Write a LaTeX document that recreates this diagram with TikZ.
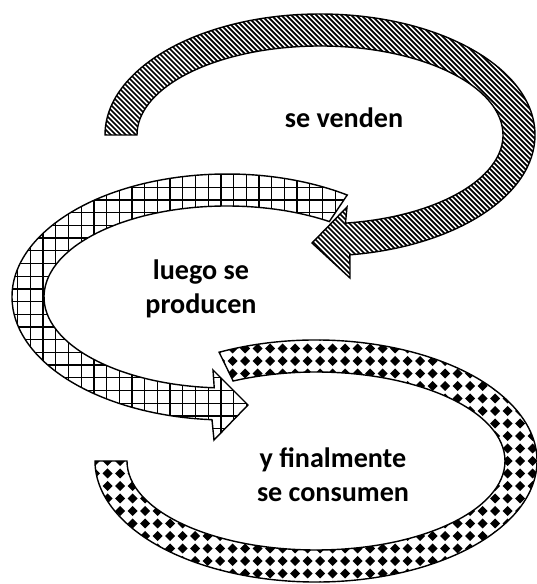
\documentclass[tikz,border=0pt]{standalone}
\usepackage{fontspec}
\setmainfont{Carlito}

\begin{document}
\begin{tikzpicture}[x=0.03cm,y=0.03cm,
    band/.style={draw, line width=1.2pt, line join=miter},
    label/.style={font=\bfseries\fontsize{24}{29}\selectfont, align=center}]
            \useasboundingbox (0,0) rectangle (537,584);

            % se venden
            \path[save path=\sellband] ([shift={(320,449)}]180:215 and 121) arc[start angle=180, end angle=-82, x radius=215, y radius=121]
                -- (350,306) -- (312,341) -- (347,377)
                -- ([shift={(320,449)}]-82:183 and 89) arc[start angle=-82, end angle=180, x radius=183, y radius=89] -- cycle;
            \begin{scope}
                \clip[use path=\sellband];
                \foreach \c in {400,405,...,1110}
                    \draw[line width=1.5pt] (\c,0) -- (\c-584,584);
            \end{scope}
            \draw[band, use path=\sellband];

            % luego se producen
            \path[save path=\makeband] ([shift={(227,287)}]56:215 and 123) arc[start angle=56, end angle=266, x radius=215, y radius=123]
                -- (214,144) -- (248,179) -- (213,214)
                -- ([shift={(227,287)}]266:183 and 91) arc[start angle=266, end angle=56, x radius=183, y radius=91] -- cycle;
            \begin{scope}
                \clip[use path=\makeband];
                \foreach \k in {0,...,28}
                    \draw[line width=1.1pt] ({5+12.7*\k},130) -- ({5+12.7*\k},420);
                \foreach \k in {0,...,24}
                    \draw[line width=1.1pt] (0,{130+12.7*\k}) -- (360,{130+12.7*\k});
            \end{scope}
            \draw[band, use path=\makeband];

            % y finalmente se consumen
            \path[save path=\useband] ([shift={(316,123)}]116:221 and 121) arc[start angle=116, end angle=-180, x radius=221, y radius=121]
                -- ([shift={(316,123)}]180:189 and 89) arc[start angle=-180, end angle=116, x radius=189, y radius=89] -- cycle;
            \begin{scope}
                \clip[use path=\useband];
                \foreach \i in {7,...,43}
                    \foreach \j in {-1,...,19}
                        \fill ({7.5+12.5*\i},{10.5+12.5*\j}) +(5,0) -- +(0,5) -- +(-5,0) -- +(0,-5) -- cycle;
            \end{scope}
            \draw[band, use path=\useband];

            \node[label] (sell) at (344,466) {se venden};
            \node[label] (make) at (201,295) {luego se\\producen};
            \node[label] (use) at (333,109) {y finalmente\\se consumen};
        \end{tikzpicture}
\end{document}
